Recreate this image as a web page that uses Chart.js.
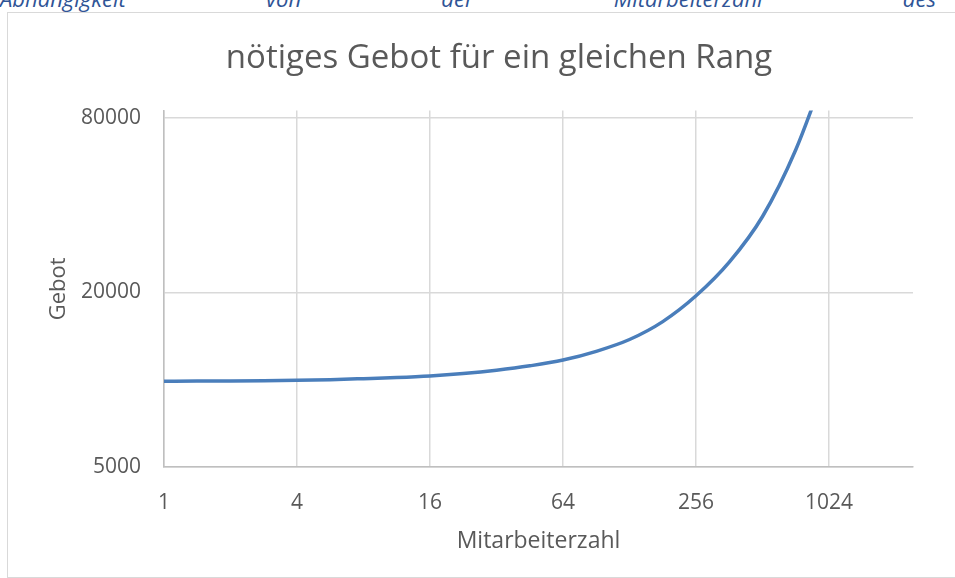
<!DOCTYPE html>
<html>
<head>
<meta charset="utf-8">
<script src="https://cdn.jsdelivr.net/npm/chart.js@4"></script>
<style>
  html, body { margin: 0; padding: 0; width: 955px; height: 578px; overflow: hidden; background: #fff; }
  #caption {
    position: absolute; left: 0; top: -16px; width: 936px;
    font: italic 22px "Open Sans", sans-serif; color: #2f5496;
    text-align: justify; text-align-last: justify; line-height: 28px; white-space: nowrap;
  }
  #frame { position: absolute; left: 7px; top: 12px; width: 990px; height: 564px; border: 1.5px solid #d9d9d9; }
  #box { position: absolute; left: 8px; top: 13px; width: 982px; height: 565px; }
</style>
</head>
<body>
<div id="caption">Abhängigkeit von der Mitarbeiterzahl des</div>
<div id="frame"></div>
<div id="box"><canvas id="gebot-chart"></canvas></div>
<script>
const mitarbeiter = [1, 1.41, 2, 2.83, 4, 5.66, 8, 11.3, 16, 22.6, 32, 45.3, 64, 90.5, 128, 181, 256, 362, 512, 724, 1024];
const gebot = [9880, 9890, 9900, 9920, 9950, 10000, 10080, 10170, 10300, 10500, 10780, 11160, 11680, 12520, 13750, 15850, 19450, 25400, 36500, 62000, 125000];
const xTicks = [1, 4, 16, 64, 256, 1024];
const yTicks = [5000, 20000, 80000];

const textColor = '#595959';
const gridColor = '#d9d9d9';

const gebotCanvas = document.getElementById('gebot-chart');

const gebotData = {
  datasets: [{
    data: mitarbeiter.map((m, i) => ({ x: m, y: gebot[i] })),
    borderColor: '#4a7ebb',
    borderWidth: 3.5,
    pointRadius: 0,
    fill: false,
    cubicInterpolationMode: 'monotone'
  }]
};

const gebotOptions = {
  responsive: true,
  maintainAspectRatio: false,
  animation: false,
  layout: { padding: 0 },
  plugins: {
    legend: { display: false },
    tooltip: { enabled: false },
    title: {
      display: true,
      text: 'nötiges Gebot für ein gleichen Rang',
      color: textColor,
      font: { family: 'Open Sans', size: 33, weight: 'normal' },
      padding: { top: 26, bottom: 32 }
    }
  },
  scales: {
    x: {
      type: 'logarithmic',
      min: 1,
      max: 2457,
      afterBuildTicks: scale => { scale.ticks = xTicks.map(v => ({ value: v })); },
      afterFit: scale => { scale.height = 111; },
      ticks: {
        color: textColor,
        font: { family: 'Open Sans', size: 21 },
        padding: 23,
        maxRotation: 0,
        autoSkip: false,
        callback: v => String(v)
      },
      grid: { color: gridColor, lineWidth: 1.5, drawTicks: false },
      border: { color: '#bfbfbf', width: 1.5 },
      title: {
        display: true,
        text: 'Mitarbeiterzahl',
        color: textColor,
        font: { family: 'Open Sans', size: 23 },
        padding: { top: 0, bottom: 23 }
      }
    },
    y: {
      type: 'logarithmic',
      min: 5000,
      max: 84570,
      afterBuildTicks: scale => { scale.ticks = yTicks.map(v => ({ value: v })); },
      afterFit: scale => { scale.width = 156; },
      ticks: {
        color: textColor,
        font: { family: 'Open Sans', size: 21 },
        padding: 23,
        autoSkip: false,
        callback: v => String(v)
      },
      grid: { color: gridColor, lineWidth: 1.5, drawTicks: false },
      border: { color: '#bfbfbf', width: 1.5 },
      title: {
        display: true,
        text: 'Gebot',
        color: textColor,
        font: { family: 'Open Sans', size: 22 },
        padding: { top: 38, bottom: 38 }
      }
    },
    // empty space to the right of the plot, like in the Excel chart
    rechts: {
      type: 'linear',
      position: 'right',
      display: true,
      afterFit: scale => { scale.width = 77; },
      ticks: { display: false },
      grid: { display: false },
      border: { display: false }
    }
  }
};

let gebotChart = new Chart(gebotCanvas, {
  type: 'line',
  data: gebotData,
  options: gebotOptions
});
</script>
</body>
</html>
